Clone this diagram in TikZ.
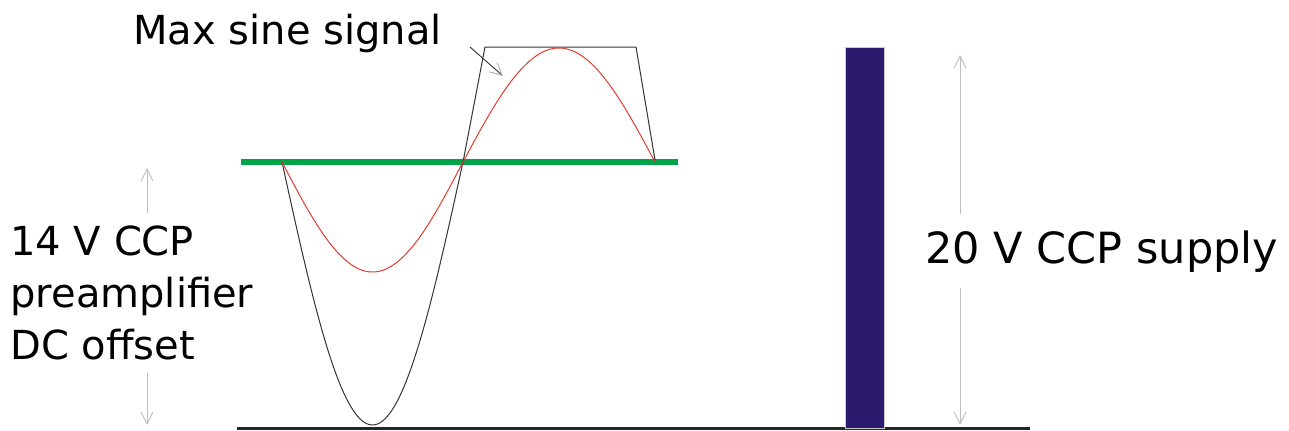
\documentclass[tikz,border=0pt]{standalone}
\usepackage{fontspec}
\setmainfont{DejaVu Sans}
\usepackage{tikz}
\usetikzlibrary{positioning,arrows.meta}
\definecolor{railgreen}{RGB}{0,163,72}
\definecolor{supplyblue}{RGB}{43,25,110}
\definecolor{sinered}{RGB}{225,60,50}

\begin{document}
\begin{tikzpicture}[
    x=0.5pt, y=-0.5pt,
    label/.style ={inner sep=0pt, align=left, font=\fontsize{20}{26}\selectfont},
    dimarr/.style={draw=gray!50, line width=0.5pt, -{Straight Barb[length=6pt,width=6pt]}},
    ptr/.style   ={draw=black!75, line width=0.5pt, -{Straight Barb[length=6pt,width=6pt,color=gray!60]}},
    bar/.style   ={rectangle, fill=supplyblue, draw=gray!40, line width=0.3pt,
                   minimum width=19.5pt, minimum height=190.5pt, inner sep=0pt},
    maxsig/.style={draw=black!80, line width=0.5pt},
    actsig/.style={draw=sinered, line width=0.5pt}]
    \useasboundingbox (0,0) rectangle (1289,430);
    % ground and dc level
    \draw[line width=1.5pt, black!85] (237,428) -- (1030,428);
    \draw[line width=2.6pt, railgreen] (241,162) -- (678,162);
    % signals
    \draw[maxsig] plot[domain=282:463, samples=80, smooth] (\x, {162+263*sin((\x-282)/181*180)})
        -- (485,47) -- (636,47) -- (655,160);
    \draw[actsig] plot[domain=282:463, samples=80, smooth] (\x, {162+110*sin((\x-282)/181*180)})
        -- plot[domain=463:655, samples=80, smooth] (\x, {162-114*sin((\x-463)/192*180)});
    % supply bar
    \node[bar] (supply) at (864.5,237.5) {};
    % labels
    \node[label, anchor=base west] (msg) at (133,44) {Max sine signal};
    \node[label, anchor=west, inner ysep=6pt] (offset) at (10,293) {14 V CCP\\preamplifier\\DC offset};
    \node[label, anchor=base west, inner ysep=8pt, font=\fontsize{21.5}{26}\selectfont] (supplylbl) at (925,263) {20 V CCP supply};
    % arrows
    \coordinate (sigtail) at (470,47);
    \coordinate (sigtip) at (503,76);
    \coordinate (offtop) at (147,168);
    \coordinate (offbot) at (147,425);
    \coordinate (suptop) at (960,55);
    \coordinate (supbot) at (960,425);
    \draw[ptr] (sigtail) -- (sigtip);
    \draw[dimarr] (offtop |- offset.north) -- (offtop);
    \draw[dimarr] (offbot |- offset.south) -- (offbot);
    \draw[dimarr] (suptop |- supplylbl.north) -- (suptop);
    \draw[dimarr] (supbot |- supplylbl.south) -- (supbot);
\end{tikzpicture}
\end{document}
